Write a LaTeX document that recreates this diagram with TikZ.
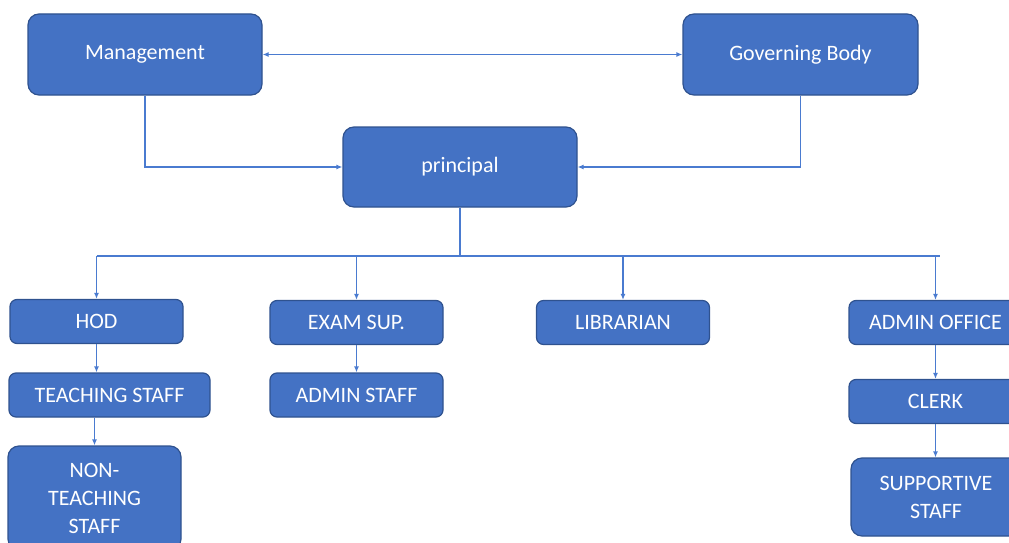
\documentclass[tikz,border=0pt]{standalone}
\usepackage{fontspec}
\setmainfont{Carlito}
\usetikzlibrary{arrows.meta}
\definecolor{boxfill}{HTML}{4472C4}
\definecolor{boxline}{HTML}{2F528F}
\definecolor{linkblue}{HTML}{4A7BD0}

\begin{document}
\begin{tikzpicture}[x=1pt, y=-1pt, >={Latex[length=6pt,width=5pt]},
	box/.style={draw=boxline, fill=boxfill, text=white, line width=1.2pt,
		inner sep=0pt, align=center, font=\fontsize{22}{28}\selectfont},
	bigbox/.style={box, rounded corners=11pt},
	smallbox/.style={box, rounded corners=7pt, minimum width=173pt, minimum height=44pt},
	link/.style={draw=linkblue, line width=1.2pt}]
			\useasboundingbox (0,0) rectangle (1009,543);
			\clip (0,0) rectangle (1009,543);
			% top level
			\node[bigbox, minimum width=234pt, minimum height=81pt] (mgmt) at (145,54.5) {Management};
			\node[bigbox, minimum width=235pt, minimum height=81pt] (gov) at (800.5,54.5) {Governing Body};
			\node[bigbox, minimum width=234pt, minimum height=80pt] (prin) at (460,167) {principal};
			\draw[<->, link] (mgmt) -- (gov);
			\draw[->, link] (mgmt.south) |- (prin.west);
			\draw[->, link] (gov.south) |- (prin.east);
			
			% second row
			\node[smallbox] (hod) at (96.5,321.5) {HOD};
			\node[smallbox] (exam) at (356.5,322.5) {EXAM SUP.};
			\node[smallbox] (lib) at (623,322.5) {LIBRARIAN};
			\node[smallbox] (office) at (935.5,322.5) {ADMIN OFFICE};
			\coordinate (bus) at (460,256);
			\coordinate (busend) at (940,256);
			\draw[link] (prin.south) -- (bus);
			\draw[link] (hod.north |- bus) -- (busend);
			\draw[->, link] (hod.north |- bus) -- (hod.north);
			\draw[->, link] (exam.north |- bus) -- (exam.north);
			\draw[->, link] (lib.north |- bus) -- (lib.north);
			\draw[->, link] (office.north |- bus) -- (office.north);
			
			% lower rows
			\node[smallbox, minimum width=201pt] (teach) at (109.5,395) {TEACHING STAFF};
			\node[bigbox, minimum width=173pt, minimum height=104pt] (nonteach) at (94.5,498) {NON-\\TEACHING\\STAFF};
			\node[smallbox] (adminstaff) at (356.5,395) {ADMIN STAFF};
			\node[smallbox] (clerk) at (935.5,401.5) {CLERK};
			\node[bigbox, minimum width=170pt, minimum height=78pt] (support) at (936,497) {SUPPORTIVE\\STAFF};
			\draw[->, link] (hod.south) -- (hod.south |- teach.north);
			\draw[->, link] (nonteach.north |- teach.south) -- (nonteach.north);
			\draw[->, link] (exam.south) -- (adminstaff.north);
			\draw[->, link] (office.south) -- (office.south |- clerk.north);
			\draw[->, link] (clerk.south) -- (clerk.south |- support.north);
			
		\end{tikzpicture}
\end{document}
